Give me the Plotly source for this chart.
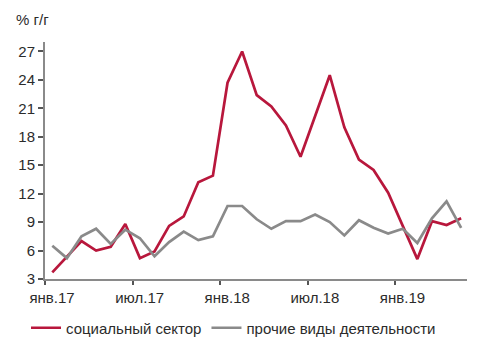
import plotly.graph_objects as go

months = ["янв.17","фев.17","мар.17","апр.17","май.17","июн.17","июл.17","авг.17","сен.17","окт.17","ноя.17","дек.17",
          "янв.18","фев.18","мар.18","апр.18","май.18","июн.18","июл.18","авг.18","сен.18","окт.18","ноя.18","дек.18",
          "янв.19","фев.19","мар.19","апр.19","май.19"]
social = [3.7, 5.3, 7.0, 6.0, 6.4, 8.8, 5.2, 5.9, 8.6, 9.6, 13.2, 13.9,
          23.7, 27.0, 22.4, 21.2, 19.2, 15.9, 20.1, 24.5, 19.0, 15.6, 14.5, 12.1,
          8.6, 5.1, 9.1, 8.7, 9.4]
other = [6.5, 5.2, 7.5, 8.3, 6.7, 8.2, 7.3, 5.4, 6.9, 8.0, 7.1, 7.5,
         10.7, 10.7, 9.3, 8.3, 9.1, 9.1, 9.8, 9.0, 7.6, 9.2, 8.4, 7.8,
         8.3, 6.8, 9.4, 11.2, 8.4]
tick_idx = [0, 6, 12, 18, 24]
y_ticks = [3, 6, 9, 12, 15, 18, 21, 24, 27]

x = list(range(len(months)))
red = "#B8173C"
gray = "#8A8A8A"
font = "Liberation Sans, Arial, sans-serif"
txt = "#2b2b2b"

fig = go.Figure()
fig.add_trace(go.Scatter(x=x, y=social, mode="lines", name="социальный сектор",
                         line=dict(color=red, width=2.7)))
fig.add_trace(go.Scatter(x=x, y=other, mode="lines", name="прочие виды деятельности",
                         line=dict(color=gray, width=2.7)))

fig.update_layout(
    width=489, height=341,
    margin=dict(l=45, r=22, t=42, b=62, autoexpand=False),
    plot_bgcolor="white", paper_bgcolor="white",
    font=dict(family=font, size=15, color=txt),
    showlegend=True,
    legend=dict(orientation="h", xref="container", yref="container",
                x=26/489, y=1 - 328/341, xanchor="left", yanchor="middle",
                font=dict(size=15, color=txt), itemwidth=30,
                tracegroupgap=0, traceorder="normal"),
    annotations=[dict(text="% г/г", xref="paper", yref="paper",
                      x=-31/422, y=(279-19)/237, xanchor="left", yanchor="middle",
                      showarrow=False, font=dict(size=15, color=txt))],
)
fig.update_xaxes(
    range=[-0.5, 28.4], showgrid=False, zeroline=False,
    showline=True, linecolor=gray, linewidth=2,
    tickmode="array", tickvals=[i - 0.5 for i in tick_idx],
    ticktext=[months[i] for i in tick_idx], ticklabelshift=7,
    ticks="outside", ticklen=4, tickwidth=1.5, tickcolor="#555555",
)
fig.update_yaxes(
    range=[3, 28], showgrid=False, zeroline=False,
    showline=True, linecolor=gray, linewidth=2,
    tickmode="array", tickvals=y_ticks,
    ticks="outside", ticklen=5, tickwidth=1.5, tickcolor="#555555",
)
fig.write_html("out.html")
